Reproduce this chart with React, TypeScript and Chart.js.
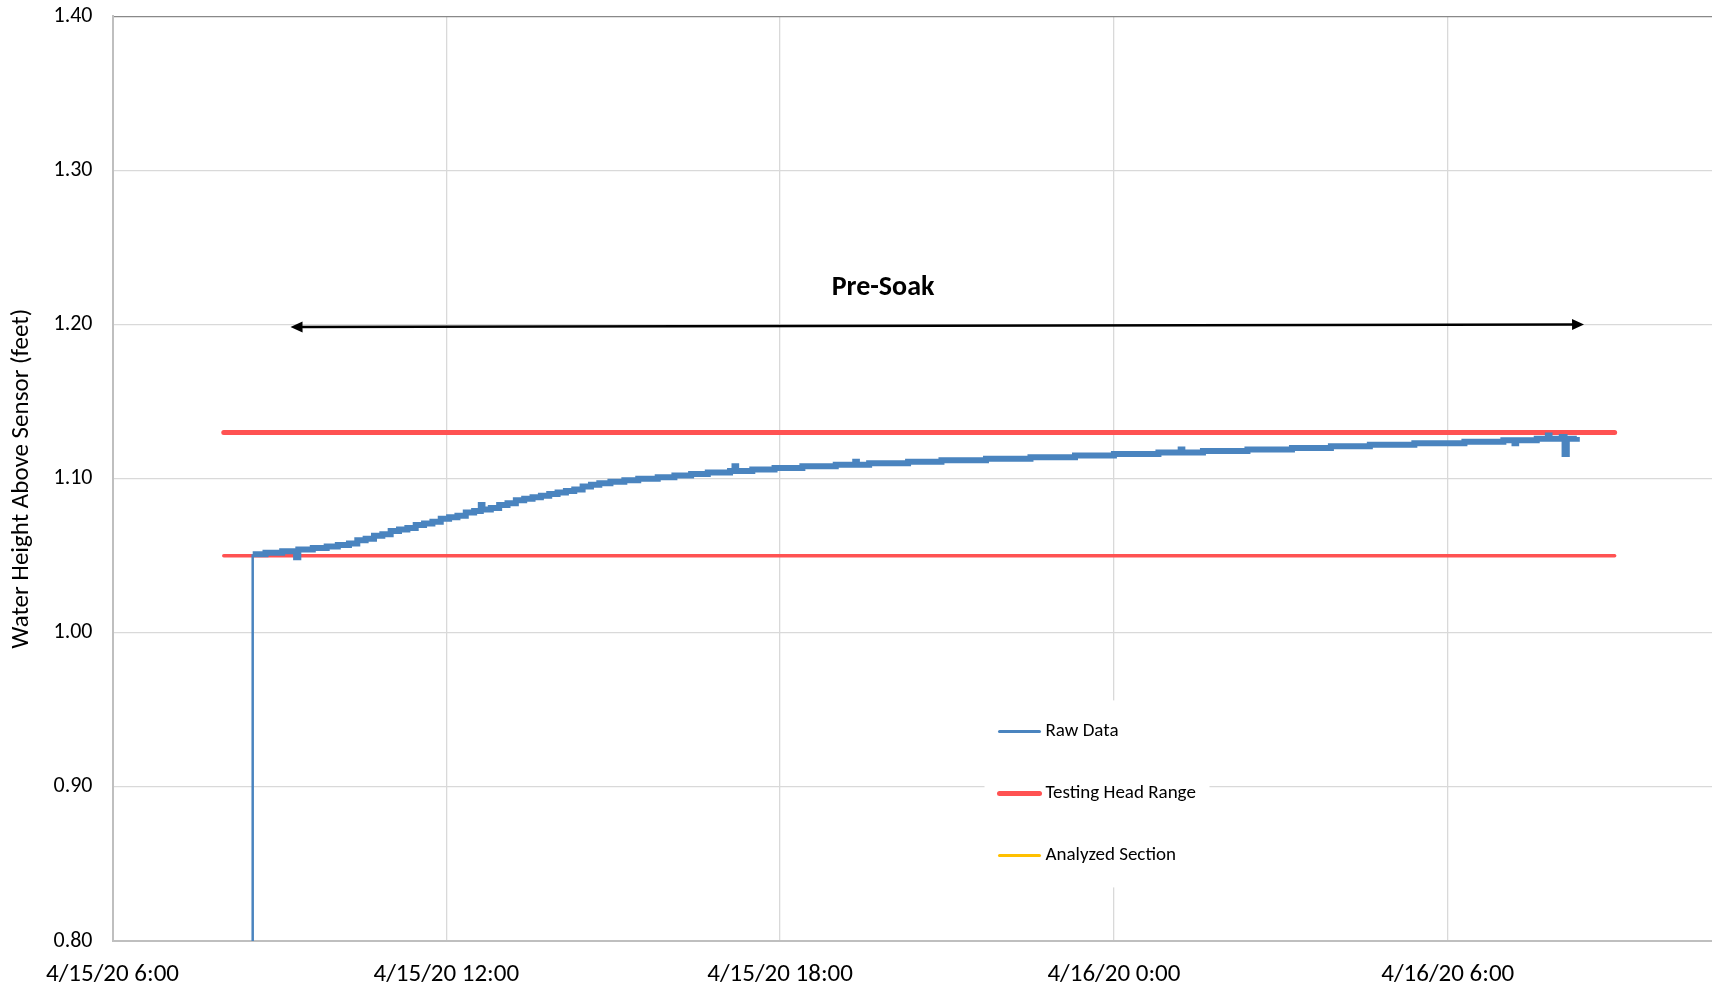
import React, { useEffect, useRef } from 'react';
import { Chart, registerables } from 'chart.js';

Chart.register(...registerables);

// ---- data (x = hours since 4/15/20 0:00) ----
const xTickValues = [6, 12, 18, 24, 30];
const xTickLabels = ['4/15/20 6:00', '4/15/20 12:00', '4/15/20 18:00', '4/16/20 0:00', '4/16/20 6:00'];
const yTickValues = [0.8, 0.9, 1.0, 1.1, 1.2, 1.3, 1.4];
const xMin = 6;
const xMax = 34.75;

const rawHours = [
  8.5, 8.52, 8.75, 9.05, 9.3, 9.34, 9.6, 9.85, 10.05, 10.25, 10.4, 10.55, 10.7, 10.85, 11.0,
  11.15, 11.3, 11.45, 11.6, 11.75, 11.9, 12.05, 12.2, 12.35, 12.5, 12.62, 12.65, 12.8, 12.95,
  13.1, 13.25, 13.4, 13.55, 13.7, 13.85, 14.0, 14.15, 14.3, 14.45, 14.6, 14.75, 14.95, 15.2,
  15.45, 15.8, 16.1, 16.4, 16.7, 17.1, 17.18, 17.21, 17.5, 17.9, 18.4, 19.0, 19.35, 19.38, 19.6,
  20.3, 20.9, 21.7, 22.5, 23.3, 24.0, 24.8, 25.2, 25.23, 25.6, 26.4, 27.2, 27.9, 28.6, 29.4,
  30.3, 31.0, 31.2, 31.23, 31.6, 31.8, 31.83, 32.05, 32.1, 32.14, 32.32,
];
const rawValues = [
  0.78, 1.051, 1.052, 1.053, 1.049, 1.054, 1.055, 1.056, 1.057, 1.058, 1.06, 1.061, 1.063, 1.064, 1.066,
  1.067, 1.068, 1.07, 1.071, 1.072, 1.074, 1.075, 1.076, 1.078, 1.079, 1.083, 1.08, 1.081, 1.083,
  1.084, 1.086, 1.087, 1.088, 1.089, 1.09, 1.091, 1.092, 1.093, 1.095, 1.096, 1.097, 1.098, 1.099,
  1.1, 1.101, 1.102, 1.103, 1.104, 1.105, 1.108, 1.105, 1.106, 1.107, 1.108, 1.109, 1.111, 1.109, 1.11,
  1.111, 1.112, 1.113, 1.114, 1.115, 1.116, 1.117, 1.119, 1.117, 1.118, 1.119, 1.12, 1.121, 1.122, 1.123,
  1.124, 1.125, 1.123, 1.125, 1.126, 1.128, 1.126, 1.127, 1.116, 1.126, 1.127,
];

const headRangeHours = [8.0, 33.0];
const headUpperValues = [1.13, 1.13];
const headLowerValues = [1.05, 1.05];

const analyzedHours: number[] = [];
const analyzedValues: number[] = [];

const arrowHours = [9.2, 32.45];
const arrowValues = [1.1985, 1.2];
const annotationText = 'Pre-Soak';
const annotationHour = 19.85;
const annotationValue = 1.2235;

const seriesLabels = ['Raw Data', 'Testing Head Range', 'Analyzed Section'];
const yTitle = 'Water Height Above Sensor (feet)';

const FONT = "Carlito, Lato, sans-serif";
const BLUE = '#4A84BF';
const RED = '#FF5252';
const YELLOW = '#FFC000';

const pts = (xs: number[], ys: number[]) => xs.map((x, i) => ({ x, y: ys[i] }));

const overlayPlugin = {
  id: 'overlay',
  afterDraw(chart: any) {
    const { ctx, scales, chartArea } = chart;
    const x = scales.x;
    const y = scales.y;
    ctx.save();
    // arrow
    const x1 = x.getPixelForValue(arrowHours[0]);
    const y1 = y.getPixelForValue(arrowValues[0]);
    const x2 = x.getPixelForValue(arrowHours[1]);
    const y2 = y.getPixelForValue(arrowValues[1]);
    const ang = Math.atan2(y2 - y1, x2 - x1);
    const head = 12;
    const hw = 5.5;
    ctx.strokeStyle = '#000';
    ctx.fillStyle = '#000';
    ctx.lineWidth = 2.5;
    ctx.beginPath();
    ctx.moveTo(x1 + Math.cos(ang) * head * 0.8, y1 + Math.sin(ang) * head * 0.8);
    ctx.lineTo(x2 - Math.cos(ang) * head * 0.8, y2 - Math.sin(ang) * head * 0.8);
    ctx.stroke();
    const drawHead = (tx: number, ty: number, a: number) => {
      ctx.beginPath();
      ctx.moveTo(tx, ty);
      ctx.lineTo(tx - Math.cos(a) * head - Math.sin(a) * hw, ty - Math.sin(a) * head + Math.cos(a) * hw);
      ctx.lineTo(tx - Math.cos(a) * head + Math.sin(a) * hw, ty - Math.sin(a) * head - Math.cos(a) * hw);
      ctx.closePath();
      ctx.fill();
    };
    drawHead(x2, y2, ang);
    drawHead(x1, y1, ang + Math.PI);
    // annotation text
    ctx.font = `bold 28px ${FONT}`;
    ctx.textAlign = 'center';
    ctx.textBaseline = 'middle';
    ctx.fillText(annotationText, x.getPixelForValue(annotationHour), y.getPixelForValue(annotationValue));

    // legend box inside the plot
    const bx = chartArea.left + 872;
    const by = chartArea.top + 684;
    const bw = 225;
    const bh = 187;
    ctx.fillStyle = '#fff';
    ctx.fillRect(bx, by, bw, bh);
    const items = chart.data.datasets.filter((d: any, i: number, arr: any[]) =>
      arr.findIndex((e: any) => e.label === d.label) === i);
    const rowY = [by + 31, by + 93, by + 155];
    items.forEach((d: any, i: number) => {
      const ly = rowY[i];
      ctx.beginPath();
      ctx.strokeStyle = d.borderColor;
      ctx.lineWidth = d.legendWidth;
      ctx.lineCap = 'round';
      ctx.moveTo(bx + 15, ly);
      ctx.lineTo(bx + 55, ly);
      ctx.stroke();
      ctx.fillStyle = '#000';
      ctx.font = `19px ${FONT}`;
      ctx.textAlign = 'left';
      ctx.textBaseline = 'middle';
      ctx.fillText(d.label, bx + 61, ly);
    });
    ctx.restore();
  },
};

export default function App() {
  const ref = useRef<HTMLCanvasElement | null>(null);
  useEffect(() => {
    if (!ref.current) return;
    Chart.defaults.font.family = FONT;
    const chart = new Chart(ref.current, {
      type: 'line',
      data: {
        datasets: [
          {
            label: seriesLabels[0],
            data: pts(rawHours, rawValues),
            borderColor: BLUE,
            backgroundColor: BLUE,
            borderWidth: 6,
            legendWidth: 3,
            stepped: true,
            pointRadius: 0,
            segment: {
              borderWidth: (c: any) => (c.p0.parsed.y < 1.0 ? 2.5 : 6),
            },
          } as any,
          {
            label: seriesLabels[1],
            data: pts(headRangeHours, headUpperValues),
            borderColor: RED,
            backgroundColor: RED,
            borderWidth: 5,
            legendWidth: 5,
            borderCapStyle: 'round',
            pointRadius: 0,
          } as any,
          {
            label: seriesLabels[1],
            data: pts(headRangeHours, headLowerValues),
            borderColor: RED,
            backgroundColor: RED,
            borderWidth: 3.5,
            legendWidth: 5,
            borderCapStyle: 'round',
            pointRadius: 0,
          } as any,
          {
            label: seriesLabels[2],
            data: pts(analyzedHours, analyzedValues),
            borderColor: YELLOW,
            backgroundColor: YELLOW,
            borderWidth: 3,
            legendWidth: 3,
            pointRadius: 0,
          } as any,
        ],
      },
      options: {
        animation: false,
        responsive: false,
        devicePixelRatio: 1,
        layout: { padding: { top: 16.4, right: 0, left: 0, bottom: 0 } },
        plugins: {
          legend: { display: false },
          tooltip: { enabled: false },
        },
        scales: {
          x: {
            type: 'linear',
            min: xMin,
            max: xMax,
            afterBuildTicks: (s: any) => {
              s.ticks = xTickValues.map((v) => ({ value: v }));
            },
            afterFit: (s: any) => {
              s.height = 47;
            },
            ticks: {
              callback: (v: any) => {
                const i = xTickValues.indexOf(Number(v));
                return i >= 0 ? xTickLabels[i] : '';
              },
              color: '#000',
              font: { size: 25 },
              padding: 19,
              maxRotation: 0,
              autoSkip: false,
            },
            grid: { color: '#D9D9D9', lineWidth: 1.3, drawTicks: false },
            border: { color: '#BFBFBF', width: 2 },
          },
          y: {
            min: 0.8,
            max: 1.4,
            afterBuildTicks: (s: any) => {
              s.ticks = yTickValues.map((v) => ({ value: v }));
            },
            afterFit: (s: any) => {
              s.width = 112.5;
              s.paddingTop = 0;
              s.paddingBottom = 0;
            },
            ticks: {
              callback: (v: any) => Number(v).toFixed(2),
              color: '#000',
              font: { size: 22 },
              padding: 20,
            },
            grid: {
              color: (c: any) => (c.tick && Math.abs(c.tick.value - 1.4) < 1e-9 ? '#898989' : '#D9D9D9'),
              lineWidth: 1.3,
              drawTicks: false,
            },
            border: { color: '#BFBFBF', width: 2 },
            title: {
              display: true,
              text: yTitle,
              color: '#000',
              font: { size: 25 },
              padding: { top: 7, bottom: 0 },
            },
          },
        },
      },
      plugins: [overlayPlugin],
    });
    return () => chart.destroy();
  }, []);
  return (
    <div style={{ position: 'fixed', left: 0, top: 0, width: 1712, height: 988, background: '#fff' }}>
      <canvas ref={ref} width={1712} height={988} />
    </div>
  );
}
